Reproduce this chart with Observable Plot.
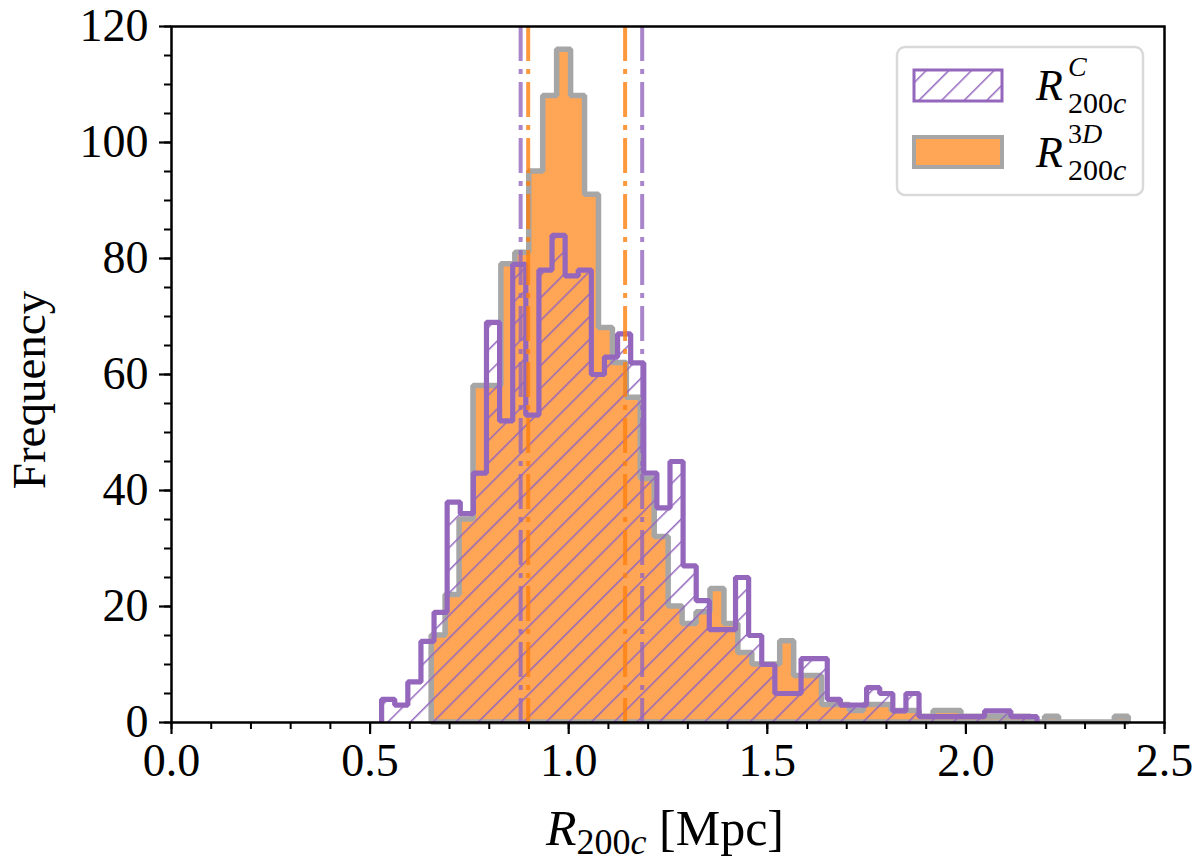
<!DOCTYPE html>
<html>
<head>
<meta charset="utf-8">
<script src="https://cdn.jsdelivr.net/npm/d3@7"></script>
<script src="https://cdn.jsdelivr.net/npm/@observablehq/plot@0.6"></script>
<style>
  body { margin: 0; background: #fff; }
  #chart { width: 1200px; height: 866px; }
</style>
</head>
<body>
<div id="chart"></div>
<script>
// histograma de R200c: 50 bins cada uno (3D en naranja, proyectado en violeta)
const orangeStart = 0.655, orangeWidth = 0.0351;
const purpleStart = 0.529, purpleWidth = 0.0330;

const orangeCounts = [15, 22, 35, 58, 58, 79, 81, 95, 108, 116,
  108, 91, 68, 62, 56, 42, 32, 20, 17, 19,
  23, 17, 12, 10, 10, 14, 8, 8, 3, 3,
  2, 3, 3, 2, 2, 1, 2, 2, 1, 1,
  1, 1, 1, 0, 1, 0, 0, 0, 0, 1];

const purpleCounts = [4, 3, 7, 14, 19, 38, 36, 43, 69, 52,
  79, 53, 78, 84, 77, 78, 60, 63, 67, 62,
  43, 37, 45, 27, 21, 16, 16, 25, 15, 10,
  5, 5, 11, 11, 4, 3, 3, 6, 5, 2,
  5, 1, 1, 1, 1, 1, 2, 2, 1, 1];

// lineas punto-raya (percentiles)
const orangeLines = [0.898, 1.142];
const purpleLines = [0.879, 1.185];

const xTicks = [0, 0.5, 1, 1.5, 2, 2.5];
const yTicks = [0, 20, 40, 60, 80, 100, 120];
const xMinor = d3.range(0, 2.51, 0.1);
const yMinor = d3.range(0, 121, 5);

const PURPLE = '#9467bd';
const ORANGE = '#ff7f0e';

// pasos: un punto por borde de bin, el ultimo repite la cuenta final
function steps(start, w, counts) {
  const pts = counts.map((c, i) => ({x: start + i * w, y: c}));
  pts.push({x: start + counts.length * w, y: counts[counts.length - 1]});
  return pts;
}
const orangeSteps = steps(orangeStart, orangeWidth, orangeCounts);
const purpleSteps = steps(purpleStart, purpleWidth, purpleCounts);
const purpleOutline = [{x: purpleStart, y: 0}, ...purpleSteps,
  {x: purpleStart + purpleCounts.length * purpleWidth, y: 0}];

const font = 'Liberation Serif, DejaVu Serif, serif';

const chart = Plot.plot({
  width: 1200,
  height: 866,
  marginLeft: 171,
  marginRight: 36,
  marginTop: 26,
  marginBottom: 144,
  style: {fontFamily: font, background: 'white', color: 'black'},
  x: {domain: [0, 2.5]},
  y: {domain: [0, 120]},
  marks: [
    Plot.areaY(orangeSteps, {x: 'x', y: 'y', curve: 'step-after',
      fill: '#ffa556', stroke: '#a6a6a6', strokeWidth: 5.5, strokeLinejoin: 'miter'}),
    Plot.areaY(purpleSteps, {x: 'x', y: 'y', curve: 'step-after', fill: 'url(#hatch)'}),
    Plot.line(purpleOutline, {x: 'x', y: 'y', curve: 'step-after',
      stroke: PURPLE, strokeWidth: 5.2, strokeLinejoin: 'miter', strokeLinecap: 'butt'}),
    Plot.ruleX(purpleLines, {stroke: PURPLE, strokeOpacity: 0.8, strokeWidth: 4, strokeDasharray: '35 8 5 8'}),
    Plot.ruleX(orangeLines, {stroke: ORANGE, strokeOpacity: 0.8, strokeWidth: 4, strokeDasharray: '35 8 5 8'}),
    Plot.axisX({ticks: xMinor, tickSize: 7, tickFormat: () => '', label: null, strokeWidth: 2}),
    Plot.axisX({ticks: xTicks, tickSize: 12, tickPadding: 9, tickFormat: d => d.toFixed(1),
      label: null, strokeWidth: 2.2, fontSize: 46}),
    Plot.axisY({ticks: yMinor, tickSize: 7, tickFormat: () => '', label: null, strokeWidth: 2}),
    Plot.axisY({ticks: yTicks, tickSize: 12, tickPadding: 11, tickFormat: d => String(d),
      label: null, strokeWidth: 2.2, fontSize: 46}),
    Plot.frame({stroke: 'black', strokeWidth: 2.5})
  ]
});

const svg = d3.select(chart);

// patron de rayas '/'
const defs = svg.insert('defs', ':first-child');
defs.append('pattern')
  .attr('id', 'hatch')
  .attr('patternUnits', 'userSpaceOnUse')
  .attr('width', 16).attr('height', 16)
  .attr('patternTransform', 'rotate(45)')
  .append('line')
  .attr('x1', 0).attr('y1', -1).attr('x2', 0).attr('y2', 17)
  .attr('stroke', PURPLE).attr('stroke-width', 3);

// etiquetas de ejes
svg.append('text')
  .attr('transform', 'translate(45,390) rotate(-90)')
  .attr('text-anchor', 'middle')
  .attr('font-family', font).attr('font-size', 47)
  .text('Frequency');

const xl = svg.append('text')
  .attr('x', 546).attr('y', 845)
  .attr('text-anchor', 'start')
  .attr('font-family', font).attr('font-size', 50);
xl.append('tspan').attr('font-style', 'italic').text('R');
xl.append('tspan').attr('dy', 9).attr('font-size', 36).text('200');
xl.append('tspan').attr('font-size', 36).attr('font-style', 'italic').text('c');
xl.append('tspan').attr('dy', -9).text(' [Mpc]');

// leyenda
const lg = svg.append('g').attr('text-anchor', 'start');
lg.append('rect')
  .attr('x', 897).attr('y', 47).attr('width', 246).attr('height', 148)
  .attr('rx', 8).attr('fill', 'white').attr('fill-opacity', 0.8)
  .attr('stroke', '#d9d9d9').attr('stroke-width', 2.5);
lg.append('rect')
  .attr('x', 914).attr('y', 70).attr('width', 88).attr('height', 31)
  .attr('fill', 'url(#hatch)').attr('stroke', PURPLE).attr('stroke-width', 3);
lg.append('rect')
  .attr('x', 914).attr('y', 137).attr('width', 88).attr('height', 30)
  .attr('fill', '#ffa556').attr('stroke', '#a6a6a6').attr('stroke-width', 4);

const entries = [
  {sup: [['C', true]], y: 100},
  {sup: [['3', false], ['D', true]], y: 167}
];
entries.forEach(e => {
  lg.append('text').attr('x', 1036).attr('y', e.y)
    .attr('font-family', font).attr('font-size', 44).attr('font-style', 'italic').text('R');
  lg.append('text').attr('x', 1068).attr('y', e.y - 24)
    .attr('font-family', font).attr('font-size', 28)
    .selectAll('tspan').data(e.sup)
    .join('tspan').attr('font-style', d => d[1] ? 'italic' : null).text(d => d[0]);
  const sub = lg.append('text').attr('x', 1068).attr('y', e.y + 13)
    .attr('font-family', font).attr('font-size', 30);
  sub.append('tspan').text('200');
  sub.append('tspan').attr('font-style', 'italic').text('c');
});

document.getElementById('chart').append(chart);
</script>
</body>
</html>
